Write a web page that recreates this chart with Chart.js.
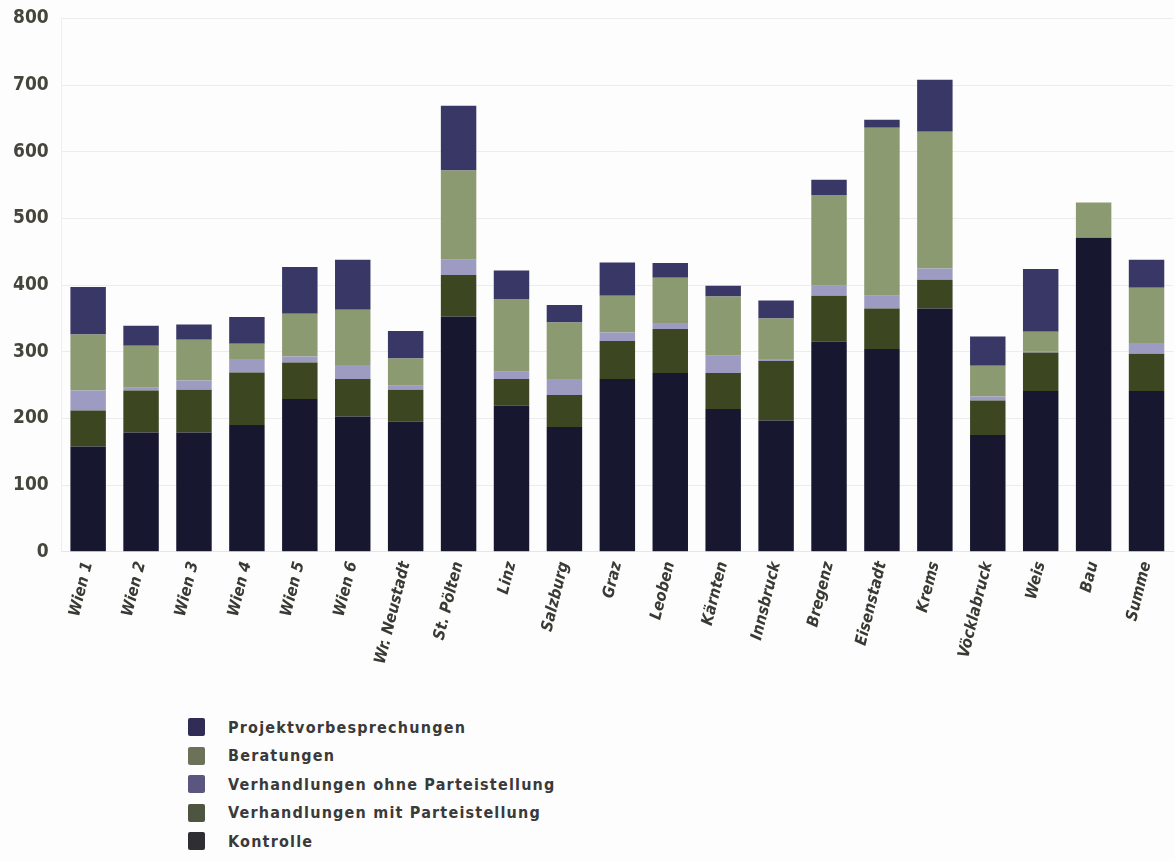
<!DOCTYPE html>
<html>
<head>
<meta charset="utf-8">
<script src="https://cdn.jsdelivr.net/npm/chart.js@4"></script>
<style>
  body { margin: 0; background: #fdfdfd; font-family: "DejaVu Sans Condensed", "DejaVu Sans", sans-serif; }
  #wrap { position: relative; width: 1175px; height: 678px; margin-top: -6px; }
  #wrap canvas { display: block; }
  #legend { margin: 41px 0 0 188px; padding: 0; list-style: none; }
  #legend li { height: 28.5px; display: flex; align-items: center; font-size: 16px; font-weight: bold; color: #3a3a3a; letter-spacing: 1.2px; }
  #legend span.box { display: inline-block; width: 17px; height: 18px; margin-right: 23px; border-radius: 2px; }
</style>
</head>
<body>
<div id="wrap"><canvas id="barChart" width="1175" height="678"></canvas></div>
<ul id="legend"></ul>
<script>
// Kategorien (Standorte)
const categories = ['Wien 1', 'Wien 2', 'Wien 3', 'Wien 4', 'Wien 5', 'Wien 6', 'Wr. Neustadt', 'St. Pölten', 'Linz', 'Salzburg',
  'Graz', 'Leoben', 'Kärnten', 'Innsbruck', 'Bregenz', 'Eisenstadt', 'Krems', 'Vöcklabruck', 'Weis', 'Bau', 'Summe'];

// Werte je Serie (gestapelt, von unten nach oben)
const kontrolle      = [158, 179, 179, 190, 229, 203, 195, 353, 219, 187, 259, 268, 214, 197, 315, 304, 365, 175, 241, 471, 241];
const mitPartei      = [ 54,  63,  64,  79,  55,  56,  48,  62,  40,  48,  57,  66,  54,  89,  69,  61,  43,  52,  58,   0,  56];
const ohnePartei     = [ 30,   4,  14,  20,   9,  21,   6,  23,  11,  24,  13,   9,  26,   3,  15,  19,  17,   6,   2,   0,  16];
const beratungen     = [ 84,  63,  61,  23,  64,  83,  41, 134, 109,  85,  55,  68,  89,  61, 136, 252, 205,  46,  29,  53,  83];
const projektvorbespr = [71,  30,  23,  40,  70,  75,  41,  97,  43,  26,  50,  22,  16,  27,  23,  12,  78,  44,  94,   0,  42];

// Achsenbeschriftung
const yTicks = [0, 100, 200, 300, 400, 500, 600, 700, 800];

const seriesNames  = ['Kontrolle', 'Verhandlungen mit Parteistellung', 'Verhandlungen ohne Parteistellung', 'Beratungen', 'Projektvorbesprechungen'];
const seriesColors = ['#17172f', '#3c4722', '#9d9bc2', '#8b9a70', '#393766'];
const legendColors = ['#2e2e33', '#4d5440', '#5a5680', '#6b7258', '#2f2d55'];
const seriesData   = [kontrolle, mitPartei, ohnePartei, beratungen, projektvorbespr];

const datasets = seriesNames.map(function(name, i) {
  return {
    label: name,
    data: seriesData[i],
    backgroundColor: seriesColors[i],
    borderWidth: 0,
    categoryPercentage: 1.0,
    barPercentage: 0.67
  };
});

var ctx = document.getElementById('barChart').getContext('2d');
var barChart = new Chart(ctx, {
  type: 'bar',
  data: { labels: categories, datasets: datasets },
  options: {
    responsive: false,
    animation: false,
    layout: { padding: { left: 0, right: 2, top: 4, bottom: 6 } },
    plugins: {
      legend: { display: false },
      tooltip: { enabled: false }
    },
    scales: {
      x: {
        stacked: true,
        grid: { display: false },
        border: { color: '#e6e6e6' },
        ticks: {
          minRotation: 76,
          maxRotation: 76,
          color: '#3a3a35',
          padding: 0,
          font: { family: '"DejaVu Sans Condensed", "DejaVu Sans", sans-serif', size: 16, style: 'italic', weight: 'bold' }
        }
      },
      y: {
        stacked: true,
        min: 0,
        max: 800,
        afterBuildTicks: function(axis) {
          axis.ticks = yTicks.map(function(v) { return { value: v }; });
        },
        grid: { color: '#ececec', drawTicks: false },
        border: { color: '#eeeeee' },
        ticks: {
          color: '#45453c',
          padding: 13,
          font: { family: '"DejaVu Sans Condensed", "DejaVu Sans", sans-serif', size: 19, weight: 'bold' }
        }
      }
    }
  }
});

// Legende (oberste Serie zuerst)
const legendEl = document.getElementById('legend');
for (let i = seriesNames.length - 1; i >= 0; i--) {
  const li = document.createElement('li');
  const box = document.createElement('span');
  box.className = 'box';
  box.style.background = legendColors[i];
  li.appendChild(box);
  li.appendChild(document.createTextNode(seriesNames[i]));
  legendEl.appendChild(li);
}
</script>
</body>
</html>
